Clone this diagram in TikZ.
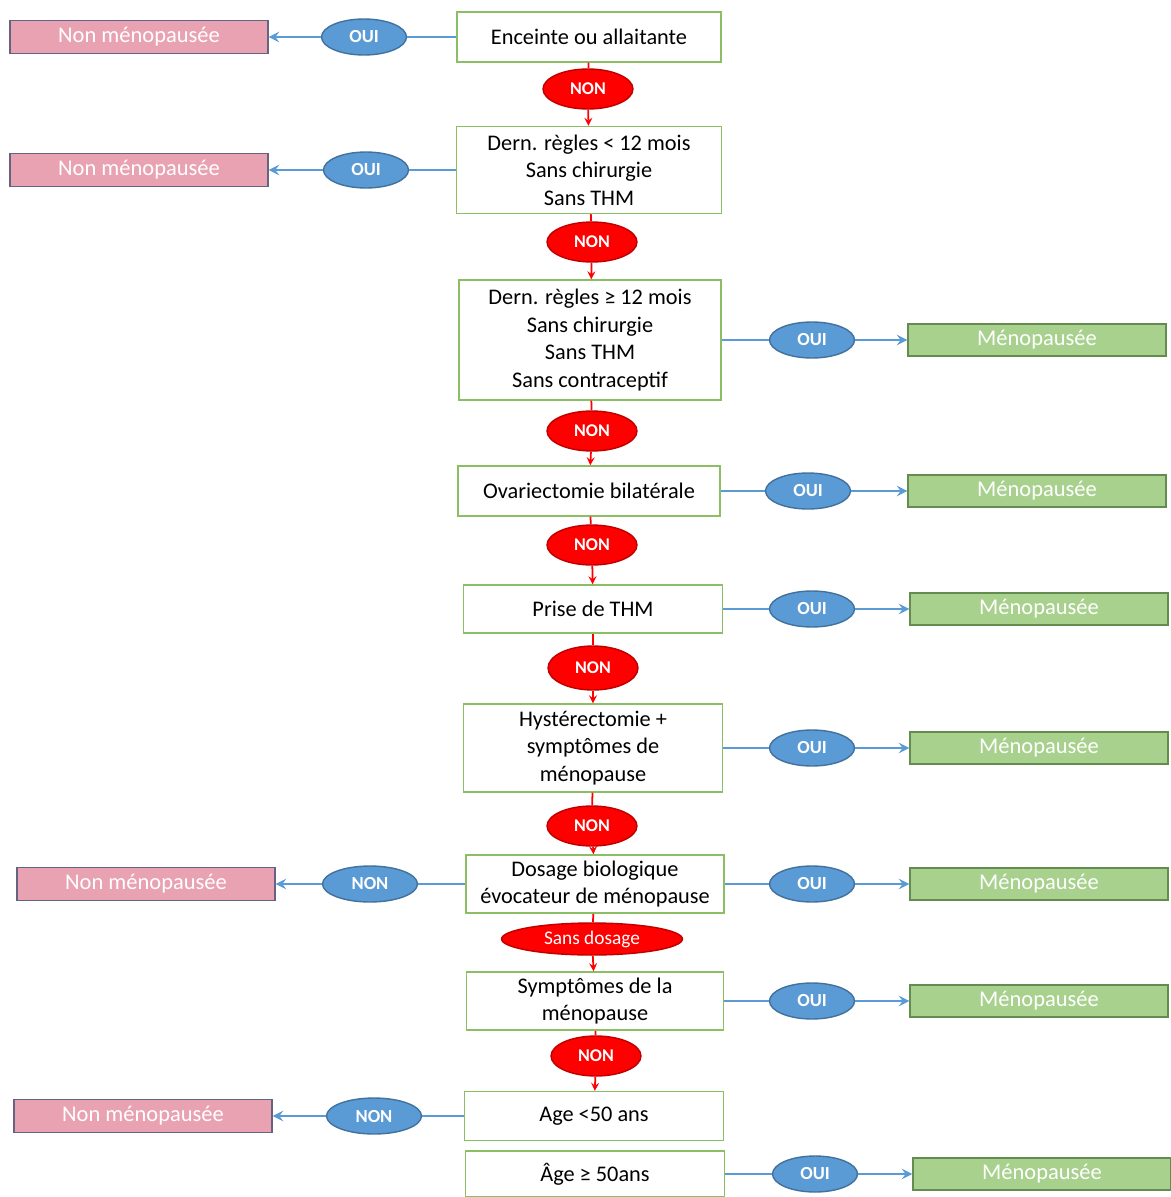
\documentclass[tikz,border=0pt]{standalone}
\usepackage{fontspec}
\setmainfont{Carlito}
\usepackage{tikz}
\usetikzlibrary{arrows,shapes,positioning}
\definecolor{mpgreen}{RGB}{140,190,100}
\definecolor{mplightgreen}{RGB}{169,209,142}
\definecolor{mpdarkgreen}{RGB}{100,140,80}
\definecolor{mppink}{RGB}{232,162,178}
\definecolor{mpslate}{RGB}{100,100,130}
\definecolor{mpblue}{RGB}{91,155,213}
\definecolor{mpdarkblue}{RGB}{65,113,156}
\definecolor{mpred}{RGB}{255,0,0}
\definecolor{mpdarkred}{RGB}{190,0,0}
\tikzstyle{yesarrow} = [line width=1.6pt,->,>=stealth,color=mpblue]
\tikzstyle{noarrow} = [line width=1pt,->,>=stealth,color=mpred]

\begin{document}
\begin{tikzpicture}[x=0.02cm, y=-0.02cm,
    question/.style={rectangle, draw=mpgreen, fill=white, line width=0.8pt, minimum width=5.2cm, minimum height=1cm, align=center, font=\fontsize{12.7}{15.6}\selectfont},
    nonmeno/.style={rectangle, draw=mpslate, fill=mppink, line width=0.8pt, minimum width=5.16cm, minimum height=0.66cm, text=white, font=\fontsize{12.8}{14}\selectfont},
    meno/.style={rectangle, draw=mpdarkgreen, fill=mplightgreen, line width=0.8pt, minimum width=5.16cm, minimum height=0.64cm, text=white, font=\fontsize{12.8}{14}\selectfont},
    yes/.style={ellipse, draw=mpdarkblue, fill=mpblue, line width=0.8pt, minimum width=1.7cm, minimum height=0.72cm, inner sep=0pt, text=white, font=\fontsize{10.5}{11}\selectfont\bfseries},
    no/.style={ellipse, draw=mpdarkred, fill=mpred, line width=0.8pt, minimum width=1.8cm, minimum height=0.8cm, inner sep=0pt, text=white, font=\fontsize{10.2}{11}\selectfont\bfseries},
    link/.style={line width=1.6pt, mpblue},
    nolink/.style={line width=1pt, mpred}]

\useasboundingbox (0,0) rectangle (1170,1197);

% Questions
\node[question, minimum width=5.28cm] (q1) at (589,37) {Enceinte ou allaitante};
\node[question, minimum width=5.3cm, minimum height=1.74cm] (q2) at (589,170) {Dern. règles < 12 mois\\Sans chirurgie\\Sans THM};
\node[question, minimum width=5.24cm, minimum height=2.4cm] (q3) at (590,340) {Dern. règles ≥ 12 mois\\Sans chirurgie\\Sans THM\\Sans contraceptif};
\node[question, minimum width=5.24cm] (q4) at (589,491) {Ovariectomie bilatérale};
\node[question, minimum width=5.18cm, minimum height=0.96cm] (q5) at (593,609) {Prise de THM};
\node[question, minimum width=5.18cm, minimum height=1.76cm] (q6) at (593,748) {Hystérectomie +\\symptômes de\\ménopause};
\node[question, minimum width=5.16cm, minimum height=0.98cm] (q7) at (595,884) {Dosage biologique\\évocateur de ménopause};
\node[question, minimum width=5.14cm, minimum height=0.96cm] (q8) at (595,1001) {Symptômes de la\\ménopause};
\node[question, minimum width=5.18cm, minimum height=0.98cm] (q9) at (594,1116) {Age <50 ans};
\node[question, minimum width=5.18cm, minimum height=0.92cm] (q10) at (595,1174) {Âge ≥ 50ans};

% NON (red)
\node[no] (n1) at (588,89) {NON};
\node[no] (n2) at (592,242) {NON};
\node[no] (n3) at (592,431) {NON};
\node[no] (n4) at (592,545) {NON};
\node[no, minimum height=0.88cm] (n5) at (593,668) {NON};
\node[no] (n6) at (592,826) {NON};
\node[no, minimum width=3.62cm, minimum height=0.64cm, font=\fontsize{11}{12}\selectfont] (sd) at (592,939) {Sans dosage};
\node[no] (n7) at (596,1056) {NON};

% Left branch
\node[nonmeno] (p1) at (139,37) {Non ménopausée};
\node[yes] (o1) at (364,37) {OUI};
\node[nonmeno] (p2) at (139,170) {Non ménopausée};
\node[yes] (o2) at (366,170) {OUI};
\node[nonmeno] (p3) at (146,884) {Non ménopausée};
\node[yes, minimum width=1.9cm] (b1) at (370,884) {NON};
\node[nonmeno] (p4) at (143,1116) {Non ménopausée};
\node[yes, minimum width=1.9cm] (b2) at (374,1116) {NON};

% Right branch
\node[yes] (r3) at (812,340) {OUI};
\node[meno] (m3) at (1037,340) {Ménopausée};
\node[yes] (r4) at (808,491) {OUI};
\node[meno] (m4) at (1037,491) {Ménopausée};
\node[yes] (r5) at (812,609) {OUI};
\node[meno] (m5) at (1039,609) {Ménopausée};
\node[yes] (r6) at (812,748) {OUI};
\node[meno] (m6) at (1039,748) {Ménopausée};
\node[yes] (r7) at (812,884) {OUI};
\node[meno] (m7) at (1039,884) {Ménopausée};
\node[yes] (r8) at (812,1001) {OUI};
\node[meno] (m8) at (1039,1001) {Ménopausée};
\node[yes] (r10) at (815,1174) {OUI};
\node[meno] (m10) at (1042,1174) {Ménopausée};

% Main flow
\draw[nolink] (q1) -- (n1);
\draw[noarrow] (n1) -- (q2);
\draw[nolink] (q2) -- (n2);
\draw[noarrow] (n2) -- (q3);
\draw[nolink] (q3) -- (n3);
\draw[noarrow] (n3) -- (q4);
\draw[nolink] (q4) -- (n4);
\draw[noarrow] (n4) -- (q5);
\draw[nolink] (q5) -- (n5);
\draw[noarrow] (n5) -- (q6);
\draw[nolink] (q6) -- (n6);
\draw[noarrow] (n6) -- (q7);
\draw[nolink] (q7) -- (sd);
\draw[noarrow] (sd) -- (q8);
\draw[nolink] (q8) -- (n7);
\draw[noarrow] (n7) -- (q9);

% Left answers
\draw[link] (q1) -- (o1);
\draw[yesarrow] (o1) -- (p1);
\draw[link] (q2) -- (o2);
\draw[yesarrow] (o2) -- (p2);
\draw[link] (q7) -- (b1);
\draw[yesarrow] (b1) -- (p3);
\draw[link] (q9) -- (b2);
\draw[yesarrow] (b2) -- (p4);

% Right answers
\draw[link] (q3) -- (r3);
\draw[yesarrow] (r3) -- (m3);
\draw[link] (q4) -- (r4);
\draw[yesarrow] (r4) -- (m4);
\draw[link] (q5) -- (r5);
\draw[yesarrow] (r5) -- (m5);
\draw[link] (q6) -- (r6);
\draw[yesarrow] (r6) -- (m6);
\draw[link] (q7) -- (r7);
\draw[yesarrow] (r7) -- (m7);
\draw[link] (q8) -- (r8);
\draw[yesarrow] (r8) -- (m8);
\draw[link] (q10) -- (r10);
\draw[yesarrow] (r10) -- (m10);
\end{tikzpicture}
\end{document}
